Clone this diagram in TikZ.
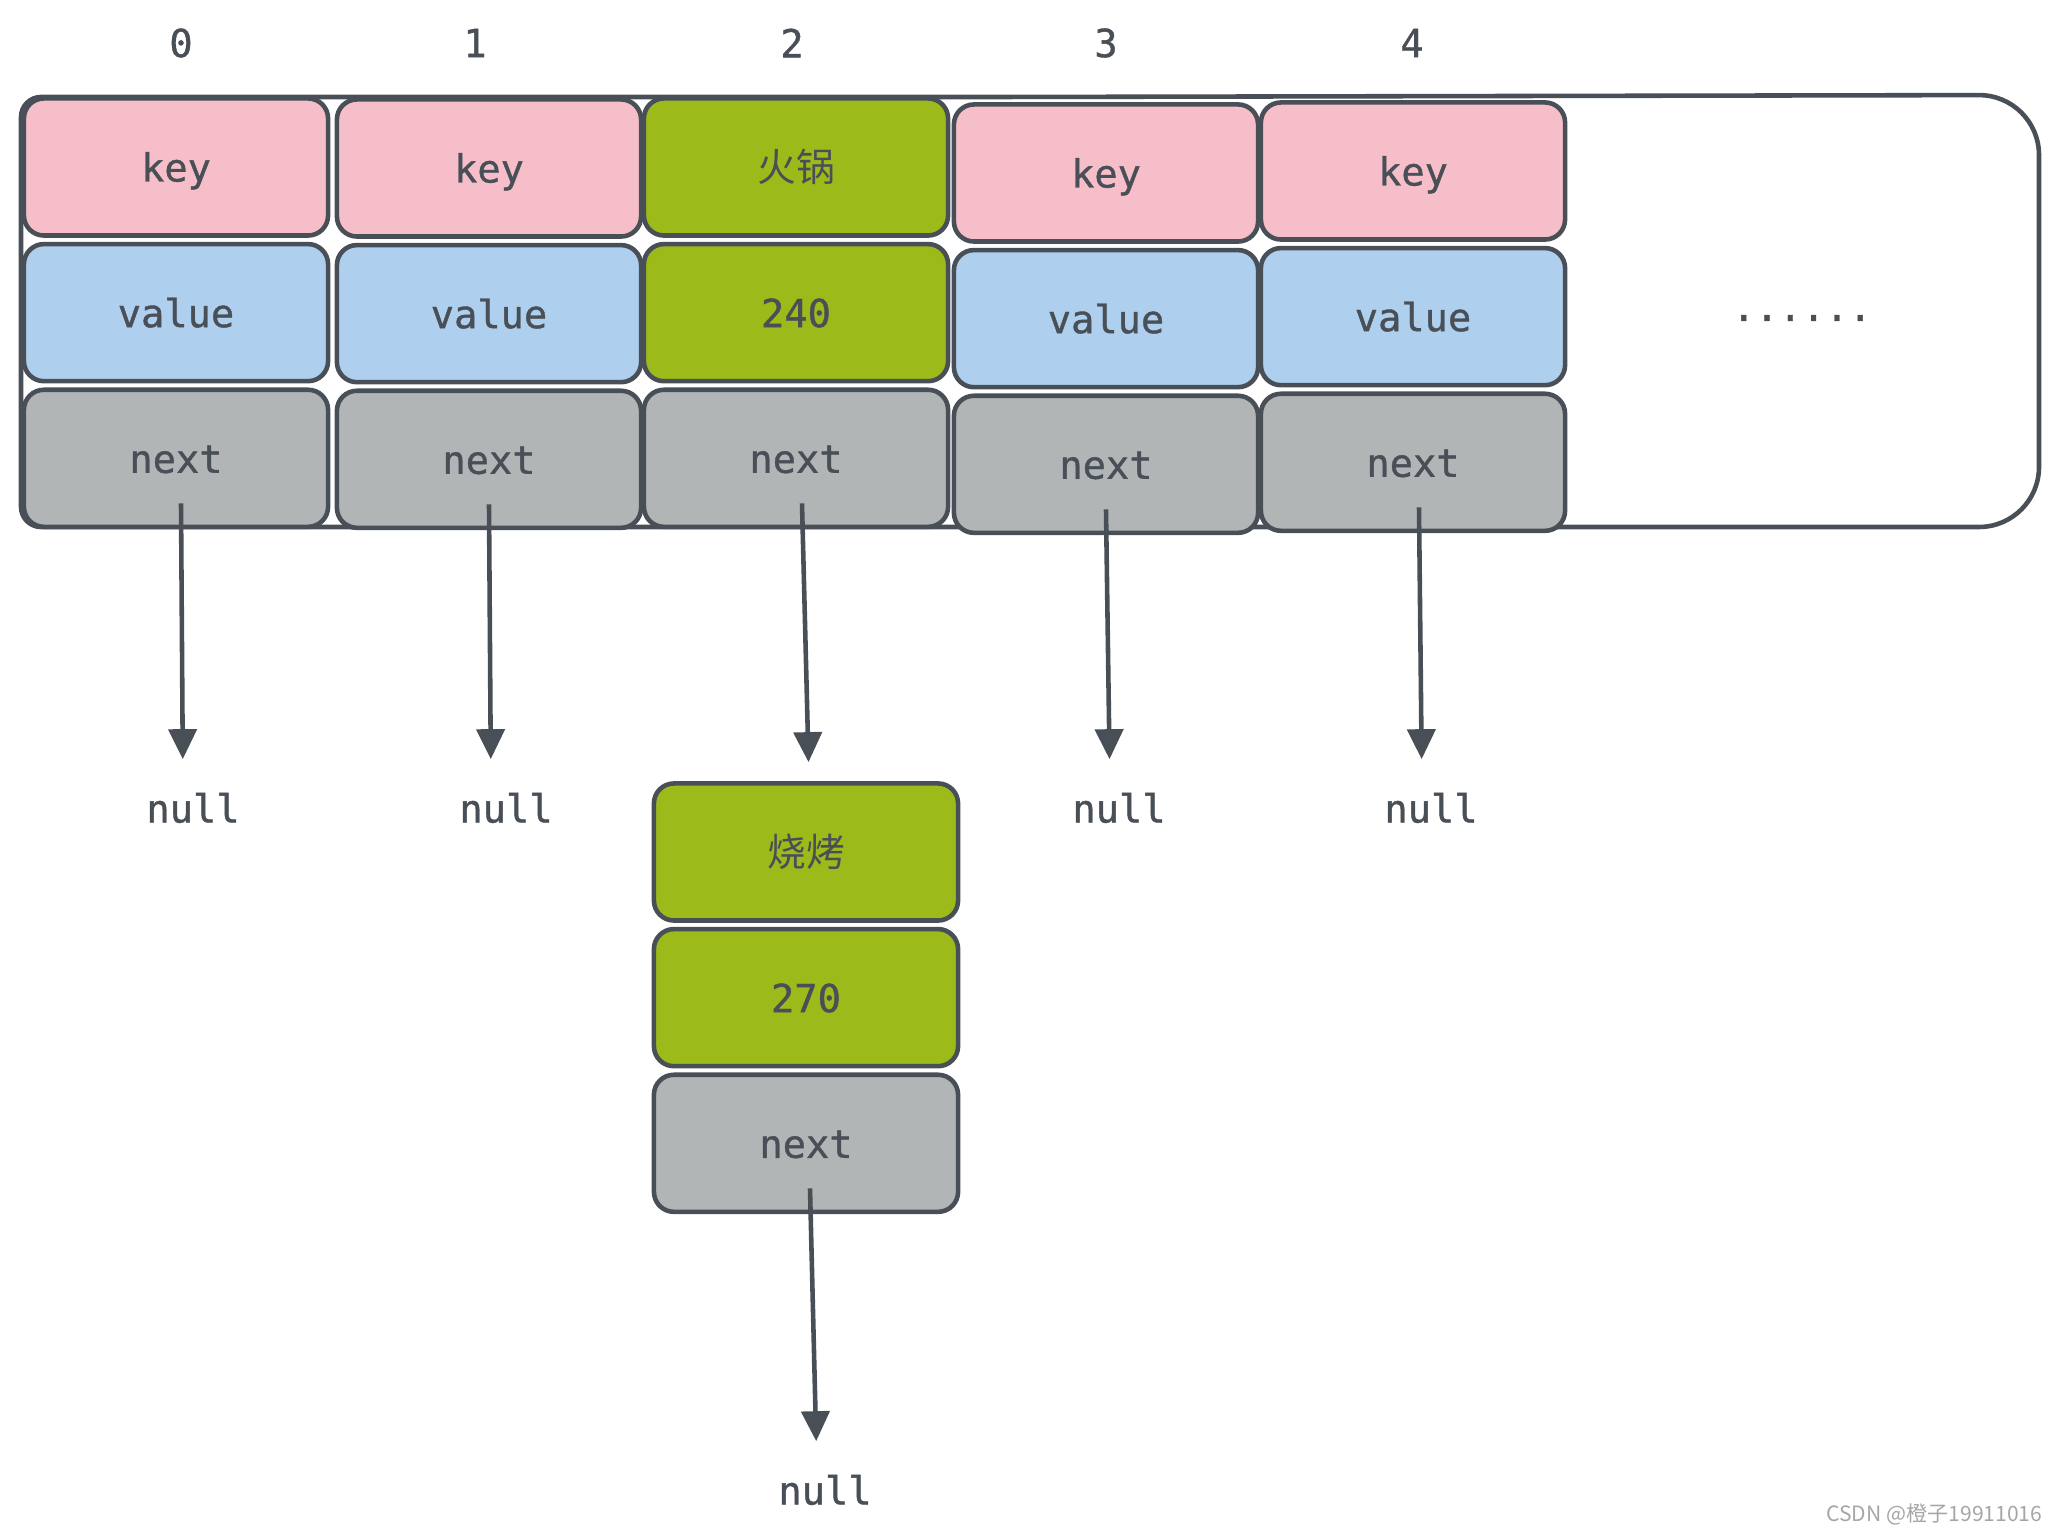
\documentclass[tikz,border=0pt]{standalone}
\usepackage{fontspec}
\usepackage{xcolor}
\usetikzlibrary{arrows.meta, positioning}
\newfontfamily\codefont[FakeBold=1]{DejaVu Sans Mono}
\newfontfamily\cjkfont{Noto Sans CJK SC}

\definecolor{ink}{RGB}{73,79,87}
\definecolor{keypink}{RGB}{246,190,200}
\definecolor{valblue}{RGB}{174,207,237}
\definecolor{hotgreen}{RGB}{156,186,26}
\definecolor{nextgray}{RGB}{178,181,182}

\begin{document}
\begin{tikzpicture}[
    x=0.01cm, y=-0.01cm,
    node distance=0.04cm,
    cell/.style={draw=ink, line width=1.3pt, rounded corners=0.2cm, minimum width=3.04cm, minimum height=1.37cm, inner sep=0pt, text height=0.36cm, text depth=0.07cm, font=\fontsize{11}{13}\codefont, text=ink},
    keycell/.style={cell, fill=keypink},
    valcell/.style={cell, fill=valblue},
    nextcell/.style={cell, fill=nextgray},
    hotcell/.style={cell, fill=hotgreen},
    idx/.style={font=\fontsize{11}{13}\codefont, text=ink, inner sep=0pt},
    nulltext/.style={font=\fontsize{11}{13}\codefont, text=ink, inner sep=0pt},
    arrow/.style={-{Triangle[length=0.3cm, width=0.28cm]}, line width=1.3pt, draw=ink},
]
\useasboundingbox (0,0) rectangle (2059,1534);

% Table frame
\draw[draw=ink, line width=1.3pt] (1000,97) [rounded corners=0.6cm] -- (2039,95) -- (2039,527) -- (1000,527)
    [rounded corners=0.2cm] -- (21,527) -- (21,97) -- cycle;

% Indices
\node[idx] (i0) at (181,43) {0};
\node[idx] (i1) at (475,43) {1};
\node[idx] (i2) at (792,43) {2};
\node[idx] (i3) at (1106,43) {3};
\node[idx] (i4) at (1412,43) {4};

% Buckets
\node[keycell] (key0) at (176,167) {key};
\node[valcell, below=of key0] (val0) {value};
\node[nextcell, below=of val0] (next0) {next};

\node[keycell] (key1) at (489,168) {key};
\node[valcell, below=of key1] (val1) {value};
\node[nextcell, below=of val1] (next1) {next};

\node[hotcell] (key2) at (796,167) {\cjkfont 火锅};
\node[hotcell, below=of key2] (val2) {240};
\node[nextcell, below=of val2] (next2) {next};

\node[keycell] (key3) at (1106,173) {key};
\node[valcell, below=of key3] (val3) {value};
\node[nextcell, below=of val3] (next3) {next};

\node[keycell] (key4) at (1413,171) {key};
\node[valcell, below=of key4] (val4) {value};
\node[nextcell, below=of val4] (next4) {next};

\node[idx] (more) at (1802,318) {......};

% Chained entry
\node[hotcell] (key5) at (806,852) {\cjkfont 烧烤};
\node[hotcell, below=of key5] (val5) {270};
\node[nextcell, below=of val5] (next5) {next};

% Ends
\node[nulltext] (null0) at (193,808) {null};
\node[nulltext] (null1) at (506,808) {null};
\node[nulltext] (null3) at (1119,808) {null};
\node[nulltext] (null4) at (1431,808) {null};
\node[nulltext] (null5) at (825,1490) {null};

% Links
\draw[arrow, shorten >=0.33cm] ([xshift=0.05cm, yshift=-0.45cm]next0.center) -- ([xshift=0.07cm]next0.center |- null0.north);
\draw[arrow, shorten >=0.33cm] ([yshift=-0.45cm]next1.center) -- ([xshift=0.02cm]next1.center |- null1.north);
\draw[arrow, shorten >=0.19cm] ([xshift=0.06cm, yshift=-0.45cm]next2.center) -- ([xshift=0.03cm]key5.north);
\draw[arrow, shorten >=0.33cm] ([yshift=-0.45cm]next3.center) -- ([xshift=0.04cm]next3.center |- null3.north);
\draw[arrow, shorten >=0.33cm] ([xshift=0.06cm, yshift=-0.45cm]next4.center) -- ([xshift=0.09cm]next4.center |- null4.north);
\draw[arrow, shorten >=0.33cm] ([xshift=0.04cm, yshift=-0.45cm]next5.center) -- ([xshift=0.11cm]next5.center |- null5.north);

\node[anchor=south east, font=\fontsize{6}{7}\cjkfont, text=black!35, inner sep=0pt] (mark) at (2043,1526) {CSDN @橙子19911016};
\end{tikzpicture}
\end{document}
